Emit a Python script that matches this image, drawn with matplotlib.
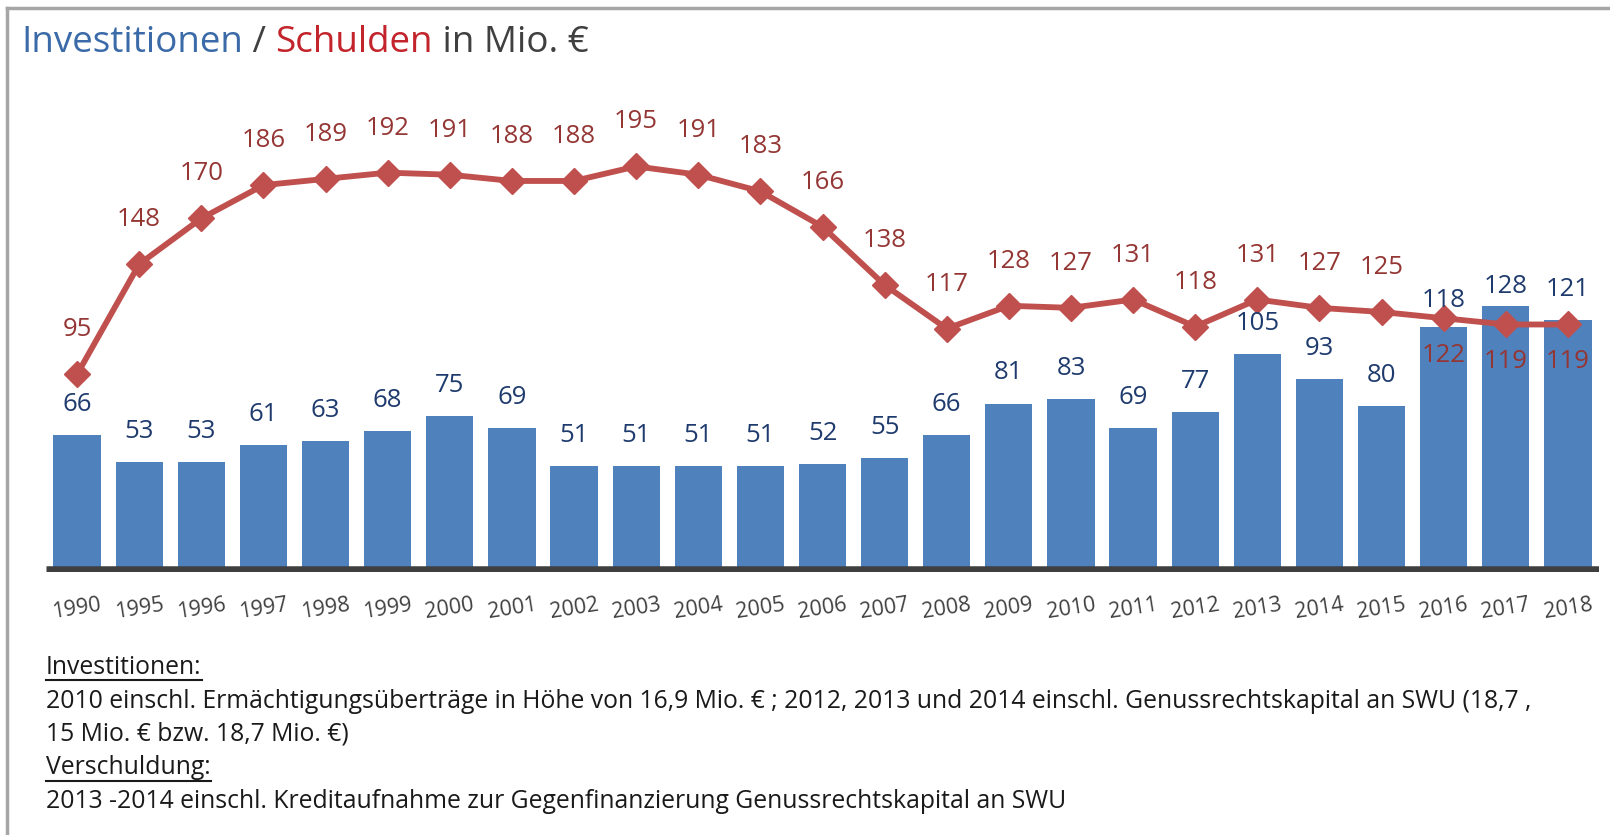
import matplotlib
matplotlib.use("Agg")
import matplotlib.pyplot as plt
from matplotlib.lines import Line2D

plt.rcParams['font.family'] = ['Open Sans', 'DejaVu Sans']

# data
years = ['1990', '1995', '1996', '1997', '1998', '1999', '2000', '2001', '2002',
         '2003', '2004', '2005', '2006', '2007', '2008', '2009', '2010', '2011',
         '2012', '2013', '2014', '2015', '2016', '2017', '2018']
investitionen = [66, 53, 53, 61, 63, 68, 75, 69, 51, 51, 51, 51, 52, 55, 66,
                 81, 83, 69, 77, 105, 93, 80, 118, 128, 121]
schulden = [95, 148, 170, 186, 189, 192, 191, 188, 188, 195, 191, 183, 166, 138,
            117, 128, 127, 131, 118, 131, 127, 125, 122, 119, 119]
notes = [
    "Investitionen:",
    "2010 einschl. Ermächtigungsüberträge in Höhe von 16,9 Mio. € ; 2012, 2013 und 2014 einschl. Genussrechtskapital an SWU (18,7 ,",
    "15 Mio. € bzw. 18,7 Mio. €)",
    "Verschuldung:",
    "2013 -2014 einschl. Kreditaufnahme zur Gegenfinanzierung Genussrechtskapital an SWU",
]

W, H = 1610, 835
fig = plt.figure(figsize=(W / 100, H / 100), dpi=100)
fig.patch.set_facecolor('white')

ax = fig.add_axes([46 / W, 1 - 572 / H, 1553 / W, 210 * 2.08 / H])
x = list(range(len(years)))

bar_col = '#4f81bd'
line_col = '#c0504d'
ax.bar(x, investitionen, width=0.76, color=bar_col, zorder=2)
ax.axhline(0, color='#3f3f3f', lw=9, zorder=3, solid_capstyle='butt')
ax.plot(x, schulden, color=line_col, lw=4.2, marker='D', ms=13, zorder=4)

ax.set_xlim(-0.5, len(years) - 0.5)
ax.set_ylim(0, 210)
for s in ax.spines.values():
    s.set_visible(False)
ax.set_yticks([])
ax.set_xticks(x)
ax.set_xticklabels(years, rotation=9, fontsize=15.5, color='#404040')
ax.tick_params(axis='x', length=0, pad=16)

# value labels
bar_off = [22] * len(years)
bar_off[22] = 19
bar_off[23] = 14
for xi, v, o in zip(x, investitionen, bar_off):
    ax.annotate(str(v), (xi, v), xytext=(0, o), textcoords='offset points',
                ha='center', va='center', fontsize=18.5, color='#1f3b6e', zorder=5)
for i, (xi, v) in enumerate(zip(x, schulden)):
    off = -27 if i >= 22 else 32
    ax.annotate(str(v), (xi, v), xytext=(0, off), textcoords='offset points',
                ha='center', va='center', fontsize=18.5, color='#943634', zorder=5)

# title in several colours
parts = [("Investitionen", '#3b6aa8'), (" / ", '#404040'),
         ("Schulden", '#c3242b'), (" in Mio. €", '#404040')]
renderer = fig.canvas.get_renderer()
tx = 21 / W
for txt, col in parts:
    t = fig.text(tx, 1 - 43 / H, txt, color=col, fontsize=26.5, va='center', ha='left')
    bb = t.get_window_extent(renderer)
    tx = bb.x1 / W

# footnotes
note_y = [667, 701, 734, 768, 802]
for i, (txt, yy) in enumerate(zip(notes, note_y)):
    t = fig.text(46 / W, 1 - yy / H, txt, fontsize=17.8, color='#1a1a1a',
                 va='center', ha='left')
    if i in (0, 3):
        bb = t.get_window_extent(renderer)
        uy = 1 - (yy + 13) / H
        fig.add_artist(Line2D([bb.x0 / W, bb.x1 / W], [uy, uy], color='#1a1a1a',
                              lw=1.5, transform=fig.transFigure))

# frame lines
fig.add_artist(Line2D([7 / W, 1], [1 - 8 / H, 1 - 8 / H], color='#a6a6a6', lw=2.5,
                      transform=fig.transFigure))
fig.add_artist(Line2D([7 / W, 7 / W], [0, 1 - 8 / H], color='#a6a6a6', lw=2.5,
                      transform=fig.transFigure))

fig.savefig("out.png", dpi=100)
